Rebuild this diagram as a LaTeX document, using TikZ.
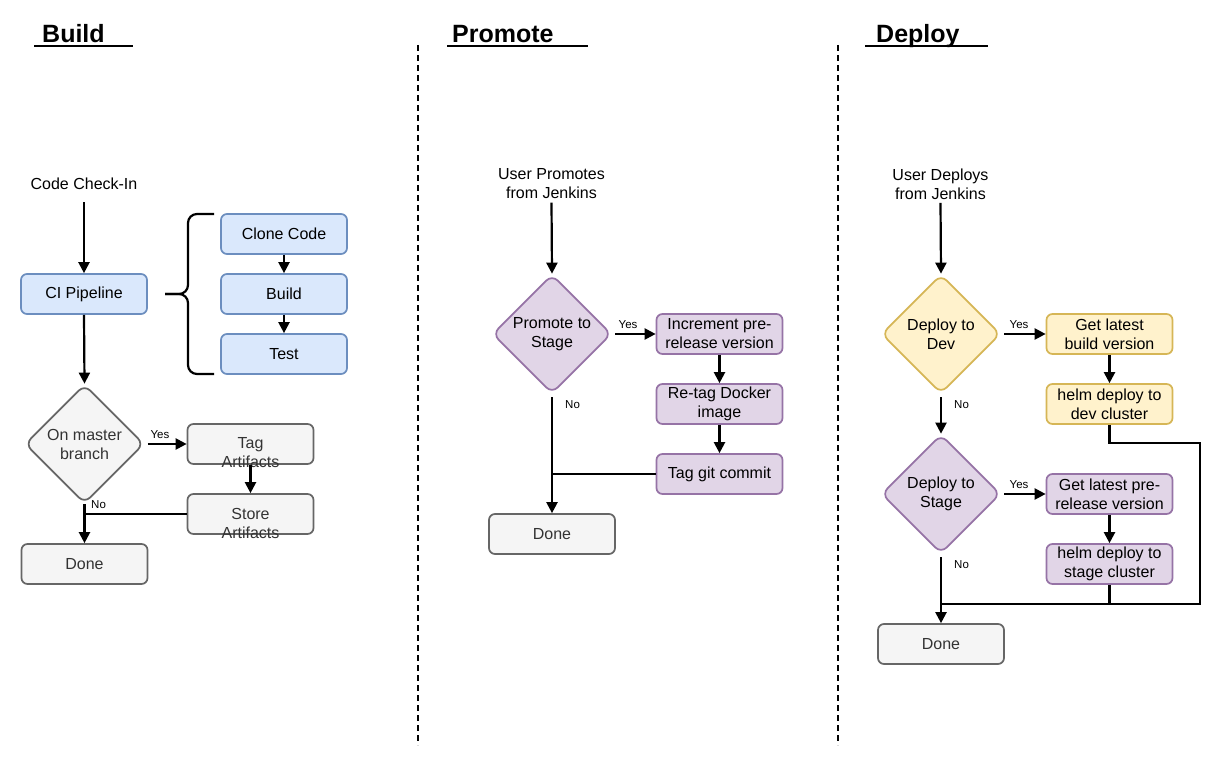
\documentclass[tikz,border=0pt]{standalone}
\usepackage{fontspec}
\setmainfont{Liberation Sans}
\usetikzlibrary{shapes.geometric,arrows.meta,calc}
\definecolor{bluef}{HTML}{DAE8FC}
\definecolor{bluel}{HTML}{6C8EBF}
\definecolor{grayf}{HTML}{F5F5F5}
\definecolor{grayl}{HTML}{666666}
\definecolor{grayt}{HTML}{333333}
\definecolor{purf}{HTML}{E1D5E7}
\definecolor{purl}{HTML}{9673A6}
\definecolor{yelf}{HTML}{FFF2CC}
\definecolor{yell}{HTML}{D6B656}
\tikzset{
  box/.style={rectangle, rounded corners=6pt, minimum width=126pt, minimum height=40pt,
    line width=1.7pt, inner sep=2pt, align=center, font=\fontsize{16}{19}\selectfont},
  bluebox/.style={box, fill=bluef, draw=bluel},
  graybox/.style={box, fill=grayf, draw=grayl, text=grayt},
  purbox/.style={box, fill=purf, draw=purl},
  yelbox/.style={box, fill=yelf, draw=yell},
  dia/.style={diamond, aspect=1, minimum width=119pt, minimum height=119pt, inner sep=0pt,
    rounded corners=8pt, line width=1.7pt, align=center, font=\fontsize{16}{19}\selectfont},
  graydia/.style={dia, fill=grayf, draw=grayl, text=grayt},
  purdia/.style={dia, fill=purf, draw=purl},
  yeldia/.style={dia, fill=yelf, draw=yell},
  conn/.style={line width=2.2pt, -{Triangle[length=11pt,width=11pt]}},
  wire/.style={line width=2.2pt},
  lbl/.style={inner sep=0pt, font=\fontsize{11.5}{13}\selectfont},
  plaintxt/.style={align=center, font=\fontsize{16}{19}\selectfont},
  ovtxt/.style={align=center, inner sep=0pt, text=grayt, font=\fontsize{16}{19}\selectfont},
  ttl/.style={anchor=base west, inner sep=0pt, font=\bfseries\fontsize{25}{30}\selectfont},
  uline/.style={line width=2.2pt},
  sep/.style={line width=1.5pt, dash pattern=on 6pt off 4pt},
  brace/.style={line width=2.2pt, rounded corners=9pt},
}
\begin{document}
\begin{tikzpicture}[x=1pt,y=-1pt]
\useasboundingbox[fill=white] (0,0) rectangle (1228,767);

% titles
\node[ttl] (tb) at (42,43) {Build};
\draw[uline] (34,46) -- (133,46);
\node[ttl] (tp) at (452,43) {Promote};
\draw[uline] (447,46) -- (588,46);
\node[ttl] (td) at (876,43) {Deploy};
\draw[uline] (865,46) -- (988,46);

% separators
\draw[sep] (418,45) -- (418,745);
\draw[sep] (838,45) -- (838,745);

% ---------------- Build ----------------
\node[plaintxt] (cci) at (84,184) {Code Check-In};
\node[bluebox] (ci) at (84,294) {CI Pipeline};
\node[bluebox] (clone) at (284,234) {Clone Code};
\node[bluebox] (bld) at (284,294) {Build};
\node[bluebox] (tst) at (284,354) {Test};
\draw[brace] (214,214) -- (188,214) -- (188,294) -- (165,294);
\draw[brace] (214,374) -- (188,374) -- (188,294) -- (165,294);
\node[graydia] (d1) at (84.5,444) {On master\\branch};
\node[graybox] (tag) at (250.5,444) {};
\node[ovtxt] (tagt) at (250.5,453) {Tag\\Artifacts};
\node[graybox] (store) at (250.5,514) {};
\node[ovtxt] (storet) at (250.5,523) {Store\\Artifacts};
\node[graybox] (done1) at (84.5,564) {Done};

\draw[conn, shorten <=9pt] (cci.south) -- (ci.north);
\draw[conn] (ci.south) -- (d1.north);
\draw[conn] (clone.south) -- (bld.north);
\draw[conn] (bld.south) -- (tst.north);
\draw[conn, shorten <=3pt] (d1.east) -- (tag.west);
\node[lbl] (y1) at (160,435) {Yes};
\draw[conn] (tag.south) -- (store.north);
\draw[conn] (d1.south) -- (done1.north);
\node[lbl, anchor=west] (n1) at (91,505) {No};
\draw[wire] (store.west) -- (store.west -| d1.south);

% ---------------- Promote ----------------
\node[plaintxt] (upj) at (551.5,184) {User Promotes\\from Jenkins};
\node[purdia] (d2) at (552,334) {Promote to\\Stage};
\node[purbox] (inc) at (719.5,334) {Increment pre-\\release version};
\node[purbox] (retag) at (719.5,404) {Re-tag Docker\\image};
\node[purbox] (tgc) at (719.5,474) {Tag git commit};
\node[graybox] (done2) at (552,534) {Done};

\draw[conn] (upj.south) -- (d2.north);
\draw[conn, shorten <=3pt] (d2.east) -- (inc.west);
\node[lbl] (y2) at (628,325) {Yes};
\draw[conn] (inc.south) -- (retag.north);
\draw[conn] (retag.south) -- (tgc.north);
\draw[conn, shorten <=3pt] (d2.south) -- (done2.north);
\node[lbl, anchor=west] (n2) at (565,405) {No};
\draw[wire] (tgc.west) -- (tgc.west -| d2.south);

% ---------------- Deploy ----------------
\node[plaintxt] (udj) at (940.5,184) {User Deploys\\from Jenkins};
\node[yeldia] (d3) at (941,334) {Deploy to\\Dev};
\node[yelbox] (glb) at (1109.5,334) {Get latest\\build version};
\node[yelbox] (hdev) at (1109.5,404) {helm deploy to\\dev cluster};
\node[purdia] (d4) at (941,494) {Deploy to\\Stage};
\node[purbox] (glp) at (1109.5,494) {Get latest pre-\\release version};
\node[purbox] (hstg) at (1109.5,564) {helm deploy to\\stage cluster};
\node[graybox] (done3) at (941,644) {Done};
\coordinate (j3) at (941,604);
\coordinate (r3) at (1200,443);

\draw[conn] (udj.south) -- (d3.north);
\draw[conn, shorten <=3pt] (d3.east) -- (glb.west);
\node[lbl] (y3) at (1019,325) {Yes};
\draw[conn] (glb.south) -- (hdev.north);
\draw[conn, shorten <=3pt] (d3.south) -- (d4.north);
\node[lbl, anchor=west] (n3) at (954,405) {No};
\draw[conn, shorten <=3pt] (d4.east) -- (glp.west);
\node[lbl] (y4) at (1019,485) {Yes};
\draw[conn] (glp.south) -- (hstg.north);
\draw[conn, shorten <=3pt] (d4.south) -- (done3.north);
\node[lbl, anchor=west] (n4) at (954,565) {No};
\draw[wire] (hdev.south) |- (r3) |- (j3);
\draw[wire] (hstg.south) |- (j3);
\end{tikzpicture}
\end{document}
